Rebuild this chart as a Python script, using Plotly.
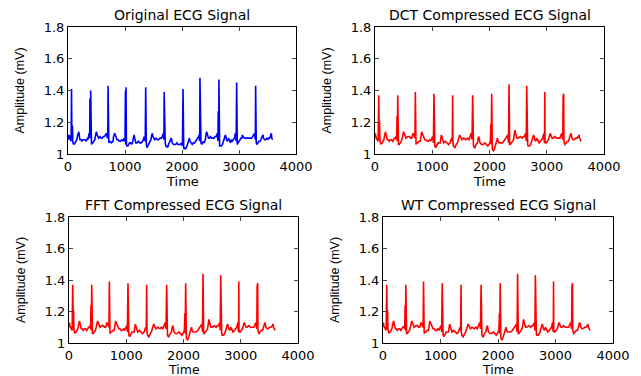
import plotly.graph_objects as go

# ---------------- data ----------------
titles = ["Original ECG Signal", "DCT Compressed ECG Signal",
          "FFT Compressed ECG Signal", "WT Compressed ECG Signal"]
x_title = "Time"
y_title = "Amplitude (mV)"
x_ticks = [0, 1000, 2000, 3000, 4000]
y_ticks = [1, 1.2, 1.4, 1.6, 1.8]
y_tick_labels = ["1", "1.2", "1.4", "1.6", "1.8"]

# original ECG: (time, amplitude) samples
original_ecg = [
    (0, 1.10), (8, 1.12), (15, 1.09), (22, 1.12), (30, 1.10), (40, 1.10), (50, 1.08), (55, 1.09), (62, 1.41), (68, 1.09),
    (74, 1.12), (78, 1.18), (84, 1.08), (92, 1.06), (100, 1.07), (110, 1.06), (125, 1.07), (140, 1.08), (155, 1.09), (170, 1.12),
    (180, 1.13), (190, 1.14), (200, 1.11), (210, 1.09), (230, 1.09), (245, 1.08), (260, 1.09), (280, 1.09), (300, 1.09), (320, 1.08),
    (340, 1.10), (350, 1.09), (360, 1.12), (368, 1.13), (375, 1.10), (380, 1.11), (385, 1.35), (390, 1.12), (394, 1.10), (398, 1.40),
    (405, 1.08), (412, 1.06), (420, 1.07), (435, 1.07), (450, 1.08), (470, 1.09), (490, 1.13), (500, 1.14), (510, 1.12), (525, 1.11),
    (540, 1.10), (560, 1.11), (580, 1.10), (600, 1.10), (620, 1.11), (640, 1.11), (655, 1.12), (670, 1.13), (680, 1.12), (690, 1.10),
    (698, 1.11), (703, 1.43), (710, 1.08), (716, 1.07), (730, 1.08), (740, 1.08), (760, 1.07), (775, 1.08), (790, 1.08), (800, 1.11),
    (810, 1.13), (820, 1.13), (830, 1.12), (845, 1.10), (860, 1.09), (880, 1.09), (900, 1.08), (920, 1.08), (945, 1.09), (970, 1.08),
    (985, 1.10), (1000, 1.08), (1008, 1.40), (1013, 1.06), (1018, 1.42), (1025, 1.06), (1035, 1.05), (1050, 1.05), (1065, 1.06), (1080, 1.07),
    (1100, 1.07), (1115, 1.06), (1130, 1.07), (1140, 1.09), (1150, 1.12), (1160, 1.12), (1170, 1.10), (1180, 1.08), (1190, 1.07), (1210, 1.07),
    (1235, 1.08), (1260, 1.07), (1285, 1.07), (1310, 1.08), (1325, 1.10), (1340, 1.11), (1348, 1.09), (1355, 1.08), (1363, 1.42), (1368, 1.08),
    (1374, 1.06), (1385, 1.04), (1400, 1.05), (1420, 1.06), (1440, 1.07), (1455, 1.09), (1470, 1.12), (1480, 1.13), (1490, 1.11), (1505, 1.10),
    (1520, 1.09), (1545, 1.10), (1570, 1.09), (1590, 1.09), (1615, 1.10), (1640, 1.10), (1655, 1.11), (1670, 1.13), (1678, 1.10), (1683, 1.09),
    (1687, 1.39), (1693, 1.10), (1697, 1.09), (1700, 1.32), (1706, 1.07), (1715, 1.05), (1730, 1.05), (1745, 1.04), (1760, 1.06), (1775, 1.07),
    (1790, 1.08), (1800, 1.10), (1810, 1.10), (1820, 1.09), (1830, 1.07), (1850, 1.06), (1870, 1.06), (1890, 1.06), (1910, 1.07), (1930, 1.06),
    (1950, 1.06), (1970, 1.06), (1990, 1.07), (2000, 1.06), (2008, 1.05), (2018, 1.41), (2024, 1.05), (2030, 1.03), (2045, 1.04), (2060, 1.03),
    (2075, 1.04), (2090, 1.05), (2105, 1.07), (2120, 1.09), (2130, 1.10), (2140, 1.08), (2160, 1.07), (2180, 1.06), (2200, 1.07), (2220, 1.07),
    (2240, 1.08), (2260, 1.09), (2280, 1.10), (2292, 1.11), (2300, 1.12), (2306, 1.10), (2310, 1.08), (2315, 1.48), (2320, 1.09), (2325, 1.08),
    (2328, 1.38), (2333, 1.07), (2345, 1.06), (2360, 1.07), (2375, 1.08), (2390, 1.07), (2410, 1.09), (2420, 1.12), (2430, 1.14), (2440, 1.13),
    (2450, 1.12), (2465, 1.10), (2480, 1.10), (2500, 1.11), (2520, 1.10), (2540, 1.10), (2560, 1.10), (2580, 1.11), (2600, 1.11), (2610, 1.12),
    (2620, 1.13), (2626, 1.10), (2630, 1.08), (2636, 1.27), (2640, 1.11), (2644, 1.10), (2648, 1.47), (2654, 1.07), (2660, 1.05), (2675, 1.05),
    (2690, 1.05), (2710, 1.06), (2730, 1.08), (2745, 1.10), (2760, 1.12), (2770, 1.11), (2780, 1.09), (2800, 1.08), (2815, 1.10), (2830, 1.09),
    (2850, 1.07), (2865, 1.09), (2880, 1.08), (2900, 1.09), (2920, 1.10), (2930, 1.12), (2940, 1.13), (2946, 1.10), (2950, 1.08), (2959, 1.45),
    (2964, 1.08), (2970, 1.06), (2985, 1.07), (3000, 1.08), (3020, 1.09), (3035, 1.10), (3050, 1.10), (3060, 1.12), (3070, 1.11), (3085, 1.10),
    (3100, 1.10), (3130, 1.10), (3160, 1.10), (3190, 1.10), (3220, 1.10), (3240, 1.11), (3260, 1.12), (3270, 1.13), (3275, 1.13), (3282, 1.10),
    (3287, 1.09), (3292, 1.43), (3297, 1.09), (3303, 1.07), (3315, 1.06), (3330, 1.07), (3350, 1.08), (3370, 1.08), (3390, 1.10), (3410, 1.12),
    (3420, 1.12), (3430, 1.10), (3450, 1.09), (3470, 1.09), (3490, 1.10), (3505, 1.09), (3520, 1.10), (3540, 1.10), (3560, 1.12), (3568, 1.13),
    (3575, 1.10), (3590, 1.09),
]

# compressed ECG (DCT / FFT / WT reconstructions look identical in the picture)
compressed_ecg = [
    (0, 1.10), (8, 1.13), (15, 1.11), (25, 1.10), (40, 1.09), (55, 1.08), (65, 1.37), (70, 1.10), (75, 1.09), (80, 1.21),
    (86, 1.09), (92, 1.07), (100, 1.06), (110, 1.07), (125, 1.07), (140, 1.08), (155, 1.09), (170, 1.12), (185, 1.14), (195, 1.12),
    (200, 1.10), (215, 1.09), (230, 1.09), (250, 1.08), (270, 1.09), (290, 1.09), (310, 1.08), (325, 1.09), (340, 1.10), (355, 1.10),
    (365, 1.11), (372, 1.10), (378, 1.09), (385, 1.24), (390, 1.08), (397, 1.37), (403, 1.08), (410, 1.06), (425, 1.06), (440, 1.07),
    (460, 1.08), (475, 1.10), (490, 1.14), (500, 1.14), (510, 1.13), (525, 1.11), (540, 1.10), (570, 1.11), (600, 1.11), (620, 1.10),
    (640, 1.10), (655, 1.12), (665, 1.13), (680, 1.12), (690, 1.10), (698, 1.11), (705, 1.39), (710, 1.08), (716, 1.06), (730, 1.07),
    (745, 1.07), (770, 1.08), (790, 1.08), (803, 1.11), (815, 1.14), (825, 1.13), (835, 1.12), (850, 1.10), (870, 1.09), (890, 1.09),
    (910, 1.08), (930, 1.08), (955, 1.09), (975, 1.08), (990, 1.10), (1005, 1.11), (1015, 1.09), (1020, 1.07), (1030, 1.38), (1036, 1.06),
    (1045, 1.05), (1060, 1.04), (1080, 1.06), (1100, 1.07), (1120, 1.07), (1140, 1.07), (1150, 1.10), (1160, 1.12), (1168, 1.11), (1175, 1.10),
    (1190, 1.08), (1200, 1.07), (1230, 1.08), (1260, 1.07), (1285, 1.06), (1310, 1.07), (1325, 1.09), (1340, 1.10), (1350, 1.08), (1357, 1.37),
    (1362, 1.07), (1370, 1.05), (1385, 1.04), (1395, 1.04), (1420, 1.06), (1440, 1.07), (1455, 1.09), (1470, 1.12), (1480, 1.12), (1490, 1.11),
    (1505, 1.10), (1520, 1.09), (1550, 1.10), (1590, 1.09), (1615, 1.10), (1640, 1.09), (1660, 1.11), (1680, 1.13), (1690, 1.10), (1695, 1.09),
    (1706, 1.37), (1712, 1.07), (1720, 1.05), (1735, 1.04), (1745, 1.04), (1765, 1.06), (1790, 1.07), (1803, 1.10), (1815, 1.11), (1825, 1.09),
    (1835, 1.07), (1860, 1.06), (1890, 1.06), (1920, 1.07), (1950, 1.06), (1970, 1.05), (1990, 1.06), (2005, 1.07), (2015, 1.08), (2025, 1.19),
    (2030, 1.06), (2038, 1.38), (2043, 1.04), (2050, 1.03), (2070, 1.02), (2085, 1.03), (2100, 1.05), (2115, 1.07), (2130, 1.09), (2140, 1.10),
    (2150, 1.08), (2170, 1.07), (2190, 1.07), (2220, 1.07), (2250, 1.08), (2270, 1.09), (2290, 1.10), (2305, 1.11), (2320, 1.12), (2327, 1.09),
    (2332, 1.07), (2341, 1.44), (2346, 1.08), (2352, 1.06), (2365, 1.06), (2380, 1.07), (2400, 1.08), (2420, 1.09), (2432, 1.12), (2445, 1.15),
    (2455, 1.13), (2465, 1.12), (2480, 1.10), (2500, 1.10), (2535, 1.11), (2570, 1.10), (2590, 1.11), (2610, 1.11), (2620, 1.12), (2630, 1.13),
    (2637, 1.10), (2642, 1.08), (2650, 1.43), (2654, 1.11), (2658, 1.10), (2662, 1.25), (2667, 1.06), (2675, 1.05), (2700, 1.05), (2720, 1.06),
    (2740, 1.08), (2755, 1.10), (2770, 1.12), (2780, 1.11), (2790, 1.09), (2810, 1.08), (2825, 1.10), (2840, 1.09), (2865, 1.07), (2890, 1.08),
    (2910, 1.09), (2930, 1.10), (2942, 1.12), (2950, 1.13), (2953, 1.09), (2957, 1.39), (2960, 1.08), (2962, 1.07), (2966, 1.39), (2970, 1.08),
    (2975, 1.07), (2990, 1.07), (3010, 1.08), (3030, 1.09), (3045, 1.11), (3060, 1.13), (3070, 1.12), (3080, 1.11), (3095, 1.10), (3110, 1.10),
    (3140, 1.11), (3170, 1.10), (3200, 1.10), (3230, 1.10), (3250, 1.12), (3265, 1.13), (3272, 1.11), (3280, 1.09), (3286, 1.36), (3290, 1.11),
    (3292, 1.10), (3296, 1.38), (3300, 1.09), (3305, 1.07), (3320, 1.06), (3340, 1.07), (3360, 1.08), (3380, 1.08), (3400, 1.10), (3420, 1.13),
    (3430, 1.12), (3440, 1.10), (3460, 1.09), (3480, 1.09), (3505, 1.10), (3530, 1.10), (3550, 1.11), (3565, 1.12), (3572, 1.10), (3580, 1.09),
    (3600, 1.08),
]

orig_t = [p[0] for p in original_ecg]
orig_v = [p[1] for p in original_ecg]
comp_t = [p[0] for p in compressed_ecg]
comp_v = [p[1] for p in compressed_ecg]

series = [(orig_t, orig_v, "#0000FF"), (comp_t, comp_v, "#FF0000"),
          (comp_t, comp_v, "#FF0000"), (comp_t, comp_v, "#FF0000")]

# ---------------- layout (pixel boxes of each panel) ----------------
W, H = 641, 376
OFF = 8  # page body margin offsets the figure by 8 px
boxes = [(68, 296, 27, 154), (375, 604, 27, 154), (69, 298, 217, 343), (383, 613, 217, 343)]
time_gap = [27, 27, 26, 26]        # px from plot bottom to the "Time" label centre
time_size = [13, 13, 12.5, 12.5]

fig = go.Figure()
font = "DejaVu Sans, Arial, sans-serif"
for i, ((t, v, c), (x0, x1, y0, y1)) in enumerate(zip(series, boxes)):
    x0, x1, y0, y1 = x0 - OFF, x1 - OFF, y0 - OFF, y1 - OFF
    n = "" if i == 0 else str(i + 1)
    fig.add_trace(go.Scatter(x=t, y=v, mode="lines", line=dict(color=c, width=1.6),
                             xaxis="x" + n, yaxis="y" + n, showlegend=False))
    fig.layout["xaxis" + n] = dict(
        domain=[x0 / W, x1 / W], anchor="y" + n, range=[0, 4000], tickvals=x_ticks, automargin=False,
        ticks="inside", ticklen=4, mirror="allticks", showline=True, linecolor="black", linewidth=1,
        showgrid=False, zeroline=False, tickfont=dict(family=font, size=13, color="black"))
    fig.layout["yaxis" + n] = dict(
        domain=[1 - y1 / H, 1 - y0 / H], anchor="x" + n, range=[1, 1.8], tickvals=y_ticks, automargin=False,
        ticktext=y_tick_labels, ticks="inside", ticklen=4, mirror="allticks", showline=True,
        linecolor="black", linewidth=1, showgrid=False, zeroline=False,
        tickfont=dict(family=font, size=13, color="black"),
        title=dict(text=y_title, font=dict(family="Liberation Sans, Arial", size=12.5, color="black"),
                   standoff=16))
    # panel title
    fig.add_annotation(text=titles[i], xref="paper", yref="paper", x=(x0 + x1) / 2 / W,
                       y=1 - y0 / H, xanchor="center", yanchor="bottom", yshift=2, showarrow=False,
                       font=dict(family=font, size=14, color="black"))
    # x-axis title
    fig.add_annotation(text=x_title, xref="paper", yref="paper", x=(x0 + x1) / 2 / W,
                       y=1 - (y1 + time_gap[i]) / H, xanchor="center", yanchor="middle", showarrow=False,
                       font=dict(family=font, size=time_size[i], color="black"))

fig.update_layout(width=W, height=H, margin=dict(l=0, r=0, t=0, b=0),
                  paper_bgcolor="white", plot_bgcolor="white")
fig.write_html("out.html")
